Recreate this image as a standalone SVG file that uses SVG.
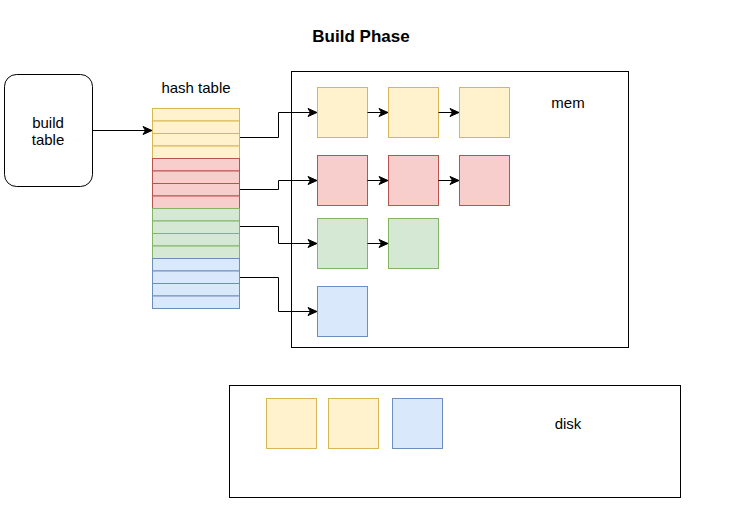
<svg xmlns="http://www.w3.org/2000/svg" width="733" height="516" viewBox="0 0 733 516">
<style>
text{font-family:"Liberation Sans",Arial,sans-serif;font-size:15px;fill:#000}
.y{fill:#fff2cc;stroke:#d6b656}
.r{fill:#f8cecc;stroke:#b85450}
.g{fill:#d5e8d4;stroke:#82b366}
.b{fill:#dae8fc;stroke:#6c8ebf}
.c{fill:#fff;stroke:#000}
.e{fill:none;stroke:#000;stroke-width:1;marker-end:url(#ah)}
</style>
<defs>
<marker id="ah" markerWidth="12" markerHeight="12" refX="10" refY="6" orient="auto" markerUnits="userSpaceOnUse">
<path d="M1,2 L10,6 L1,10 L3.5,6 z" fill="#000" stroke="#000" stroke-width="1" stroke-linejoin="miter"/>
</marker>
</defs>
<rect width="733" height="516" fill="#fff"/>
<text x="361" y="42" text-anchor="middle" style="font-weight:bold;font-size:17px">Build Phase</text>
<g id="mem">
<rect class="c" x="291.5" y="71.5" width="337" height="276"/>
<text x="568" y="108" text-anchor="middle">mem</text>
</g>
<g id="disk">
<rect class="c" x="229.5" y="385.5" width="451" height="112"/>
<text x="568" y="429" text-anchor="middle">disk</text>
</g>
<g id="build-table">
<rect x="4.5" y="74.5" width="88" height="112" rx="12" fill="#fff" stroke="#000"/>
<text x="48" y="128" text-anchor="middle">build</text>
<text x="48" y="145" text-anchor="middle">table</text>
</g>
<g id="hash-table">
<text x="196" y="93" text-anchor="middle">hash table</text>
<rect class="y" x="152.5" y="108.5" width="87" height="12.5"/>
<rect class="y" x="152.5" y="121" width="87" height="12.5"/>
<rect class="y" x="152.5" y="133.5" width="87" height="12.5"/>
<rect class="y" x="152.5" y="146" width="87" height="12.5"/>
<rect class="r" x="152.5" y="158.5" width="87" height="12.5"/>
<rect class="r" x="152.5" y="171" width="87" height="12.5"/>
<rect class="r" x="152.5" y="183.5" width="87" height="12.5"/>
<rect class="r" x="152.5" y="196" width="87" height="12.5"/>
<rect class="g" x="152.5" y="208.5" width="87" height="12.5"/>
<rect class="g" x="152.5" y="221" width="87" height="12.5"/>
<rect class="g" x="152.5" y="233.5" width="87" height="12.5"/>
<rect class="g" x="152.5" y="246" width="87" height="12.5"/>
<rect class="b" x="152.5" y="258.5" width="87" height="12.5"/>
<rect class="b" x="152.5" y="271" width="87" height="12.5"/>
<rect class="b" x="152.5" y="283.5" width="87" height="12.5"/>
<rect class="b" x="152.5" y="296" width="87" height="12.5"/>
</g>
<g id="mem-y1"><rect class="y" x="317.5" y="87.5" width="50" height="50"/></g>
<g id="mem-y2"><rect class="y" x="388.5" y="87.5" width="50" height="50"/></g>
<g id="mem-y3"><rect class="y" x="459.5" y="87.5" width="50" height="50"/></g>
<g id="mem-r1"><rect class="r" x="317.5" y="155.5" width="50" height="50"/></g>
<g id="mem-r2"><rect class="r" x="388.5" y="155.5" width="50" height="50"/></g>
<g id="mem-r3"><rect class="r" x="459.5" y="155.5" width="50" height="50"/></g>
<g id="mem-g1"><rect class="g" x="317.5" y="218.5" width="50" height="50"/></g>
<g id="mem-g2"><rect class="g" x="388.5" y="218.5" width="50" height="50"/></g>
<g id="mem-b1"><rect class="b" x="317.5" y="286.5" width="50" height="50"/></g>
<g id="disk-y1"><rect class="y" x="266.5" y="398.5" width="50" height="50"/></g>
<g id="disk-y2"><rect class="y" x="328.5" y="398.5" width="50" height="50"/></g>
<g id="disk-b1"><rect class="b" x="392.5" y="398.5" width="50" height="50"/></g>
<g id="connectors">
<path class="e" d="M92.5,130.5 H152"/>
<path class="e" d="M240,137.5 H278.5 V112.5 H317"/>
<path class="e" d="M240,189.5 H278.5 V180.5 H317"/>
<path class="e" d="M240,226.5 H278.5 V243.5 H317"/>
<path class="e" d="M240,277.5 H278.5 V311.5 H317"/>
<path class="e" d="M367.5,112.5 H388"/>
<path class="e" d="M438.5,112.5 H459"/>
<path class="e" d="M367.5,180.5 H388"/>
<path class="e" d="M438.5,180.5 H459"/>
<path class="e" d="M367.5,243.5 H388"/>
</g>
</svg>
